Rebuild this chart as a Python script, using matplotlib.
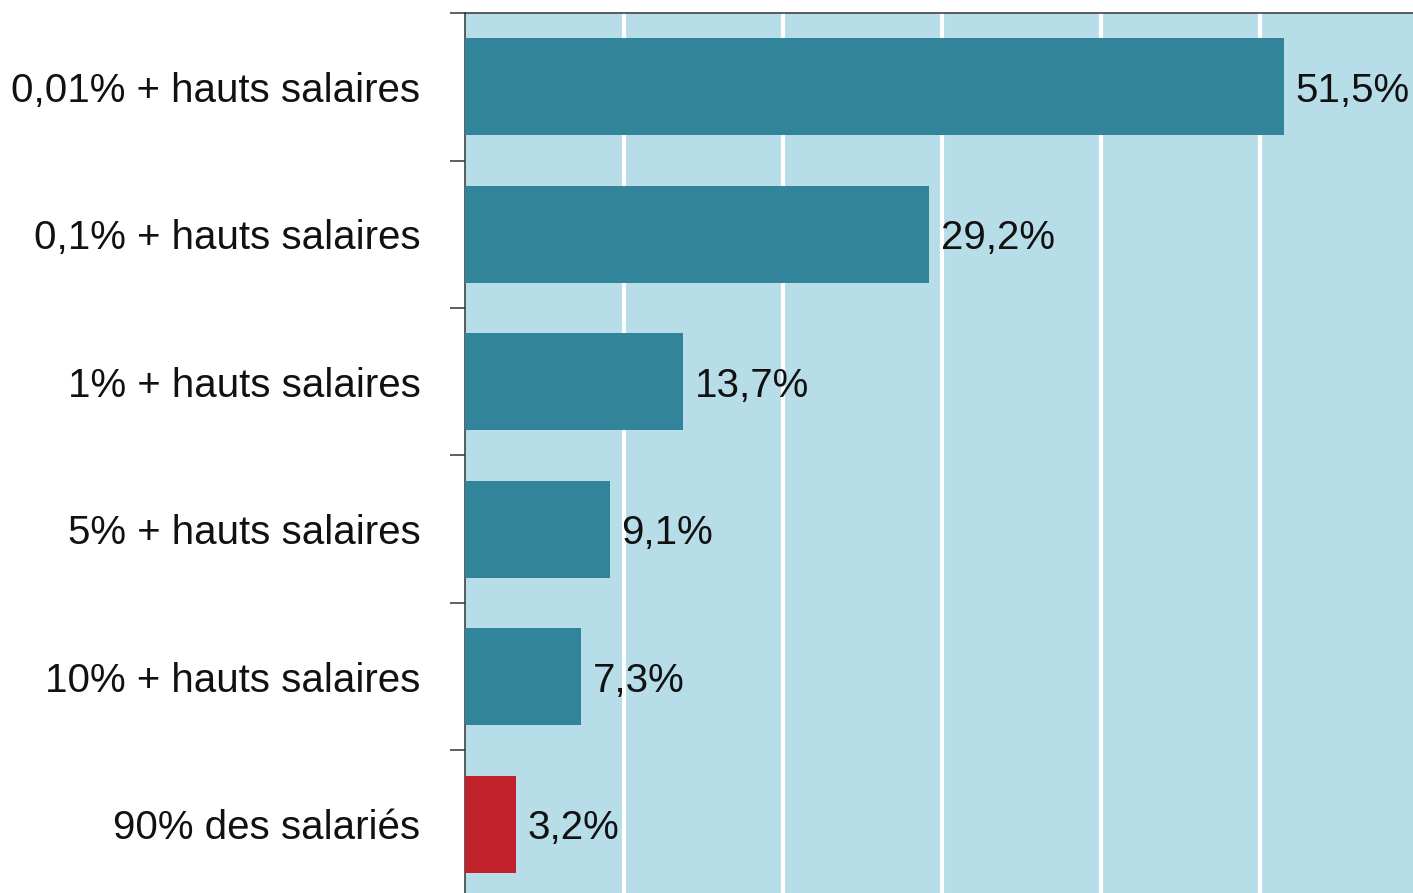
import numpy as np
import matplotlib.pyplot as plt
from matplotlib.ticker import FixedLocator

# data
categories = ["0,01% + hauts salaires", "0,1% + hauts salaires", "1% + hauts salaires",
              "5% + hauts salaires", "10% + hauts salaires", "90% des salariés"]
values = [51.5, 29.2, 13.7, 9.1, 7.3, 3.2]
value_labels = ["51,5%", "29,2%", "13,7%", "9,1%", "7,3%", "3,2%"]
bar_colors = ["#32849b"] * 5 + ["#c0212a"]

FONT = ["Liberation Sans", "DejaVu Sans"]
FS = 29


def main():
    fig = plt.figure(figsize=(14.13, 8.93), dpi=100)
    # axes runs slightly off the canvas, like the cropped original
    ax = fig.add_axes([465 / 1413, 1 - 898 / 893, 954 / 1413, 885 / 893])
    ax.set_facecolor("#b7dde8")

    y = np.arange(len(categories))
    ax.barh(y, values, height=0.66, color=bar_colors, zorder=3)
    for yi, v, lab in zip(y, values, value_labels):
        ax.text(v + 0.75, yi, lab, va="center_baseline", ha="left", fontsize=FS,
                family=FONT, color="#111111", zorder=4)

    ax.set_xlim(0, 60)
    ax.set_ylim(len(categories) - 0.5, -0.5)

    ax.set_xticks([10, 20, 30, 40, 50])
    ax.xaxis.grid(True, color="white", linewidth=3, zorder=1)
    ax.set_axisbelow(True)
    ax.tick_params(axis="x", length=0, labelbottom=False)

    ax.set_yticks(y)
    ax.set_yticklabels(categories, fontsize=FS, family=FONT, color="#111111",
                       va="center_baseline")
    ax.tick_params(axis="y", which="major", length=0, pad=32)
    ax.yaxis.set_minor_locator(FixedLocator(np.arange(-0.5, len(categories), 1.0)))
    ax.tick_params(axis="y", which="minor", length=11, width=1.1, color="#333333")

    for side in ["right", "bottom"]:
        ax.spines[side].set_visible(False)
    for side in ["left", "top"]:
        ax.spines[side].set_color("#333333")
        ax.spines[side].set_linewidth(1.1)

    fig.savefig("out.png", dpi=100)
    plt.close(fig)


if __name__ == "__main__":
    main()
